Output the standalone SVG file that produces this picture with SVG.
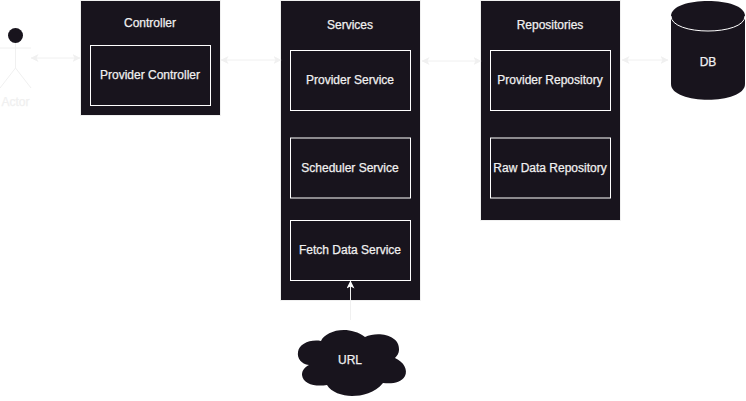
<svg xmlns="http://www.w3.org/2000/svg" width="746" height="401" viewBox="0 0 746 401">
<style>
.box{fill:#18141d;stroke:#f0f0f0;stroke-width:1}
.inner{fill:#18141d;stroke:#fff;stroke-width:1}
.fog{fill:none;stroke:#f0f0f0;stroke-width:1}
.t{font-family:"Liberation Sans",Arial,sans-serif;font-size:12px;fill:#f0f0f0;stroke:#f0f0f0;stroke-width:.25;text-anchor:middle}
</style>
<defs>
<marker id="a" viewBox="0 0 8 8" refX="7.500" refY="4" markerWidth="8" markerHeight="8" orient="auto-start-reverse" markerUnits="userSpaceOnUse"><path d="M0 0L8 4L0 8L2 4Z" fill="#f0f0f0"/></marker>
<marker id="w" viewBox="0 0 8 8" refX="7.500" refY="4" markerWidth="8" markerHeight="8" orient="auto-start-reverse" markerUnits="userSpaceOnUse"><path d="M0 0L8 4L0 8L2 4Z" fill="#fff"/></marker>
</defs>
<g id="actor">
<circle cx="15.500" cy="35.500" r="7.500" fill="#18141d"/>
<path class="fog" d="M15.500 43V68M0 48H31M15.500 68L0 88M15.500 68L31 88"/>
<text class="t" x="15.500" y="106">Actor</text>
</g>
<g id="controller">
<rect class="box" x="80.500" y="0.500" width="140" height="115"/>
<text class="t" x="150" y="27">Controller</text>
<g id="provider-controller"><rect class="inner" x="90.500" y="45.500" width="120" height="60"/><text class="t" x="150" y="79">Provider Controller</text></g>
</g>
<g id="services">
<rect class="box" x="280.500" y="0.500" width="140" height="300"/>
<text class="t" x="350" y="29">Services</text>
<g id="provider-service"><rect class="inner" x="290.500" y="50.500" width="120" height="60"/><text class="t" x="350" y="84">Provider Service</text></g>
<g id="scheduler-service"><rect class="inner" x="290.500" y="138" width="120" height="60"/><text class="t" x="350" y="172">Scheduler Service</text></g>
<g id="fetch-service"><rect class="inner" x="290.500" y="220.500" width="120" height="60"/><text class="t" x="350" y="254">Fetch Data Service</text></g>
</g>
<g id="repositories">
<rect class="box" x="480.500" y="0.500" width="140" height="220"/>
<text class="t" x="550" y="29">Repositories</text>
<g id="provider-repo"><rect class="inner" x="490.500" y="50.500" width="120" height="60"/><text class="t" x="550" y="84">Provider Repository</text></g>
<g id="raw-repo"><rect class="inner" x="490.500" y="138" width="120" height="60"/><text class="t" x="550" y="172">Raw Data Repository</text></g>
</g>
<g id="db">
<path d="M671 16C671 -4 745 -4 745 16V84C745 105 671 105 671 84Z" fill="#18141d"/>
<path d="M671 16C671 36 745 36 745 16" fill="none" stroke="#fff"/>
<text class="t" x="708" y="66">DB</text>
</g>
<g id="url">
<path d="M321 341C325 331 348 324 365 337C378 331 400 335 399 350C399 353 397 356 395 358C404 362 408 370 405 376C401 383 392 384 383 383C375 393 362 396 352 396C342 396 331 392 327 385C315 387 303 384 302 375C302 370 305 367 309 365C301 364 297 358 298 352C299 344 310 339 321 341Z" fill="#18141d"/>
<text class="t" x="350" y="364">URL</text>
</g>
<g id="connectors">
<path class="fog" d="M31 58H80" marker-start="url(#a)" marker-end="url(#a)"/>
<path class="fog" d="M221 60H281" marker-start="url(#a)" marker-end="url(#a)"/>
<path class="fog" d="M422 61H481" marker-start="url(#a)" marker-end="url(#a)"/>
<path class="fog" d="M622 60H668" marker-start="url(#a)" marker-end="url(#a)"/>
<path class="fog" d="M350.500 320V281" marker-end="url(#w)"/>
</g>
</svg>
